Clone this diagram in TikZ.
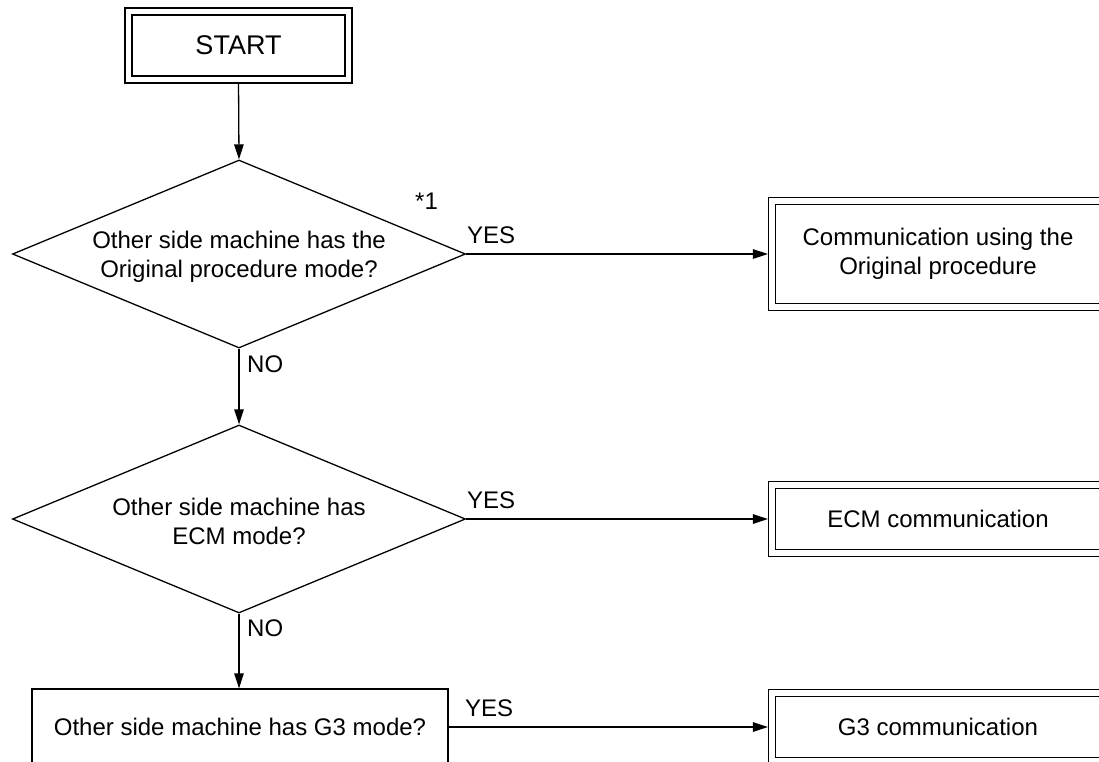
\documentclass[tikz,border=0pt]{standalone}
\usepackage{fontspec}
\setmainfont{Liberation Sans}
\usetikzlibrary{shapes.geometric,arrows.meta}
\begin{document}
\begin{tikzpicture}[x=1pt,y=-1pt,
  every node/.style={font=\fontsize{24}{29}\selectfont},
  dbox/.style={draw, line width=1.2pt, double, double distance=5.7pt, inner sep=0, align=center},
  dia/.style={draw, diamond, line width=1.3pt, inner sep=0, minimum width=453pt, minimum height=188pt},
  pbox/.style={draw, rectangle, line width=1.3pt, inner sep=0},
  arr/.style={line width=1.3pt, -{Triangle[length=15pt,width=9.5pt]}},
  lbl/.style={anchor=base west, inner sep=0}
]
\useasboundingbox (0,0) rectangle (1099,761);
\node[dbox, minimum width=220pt, minimum height=68pt, font=\fontsize{27}{32}\selectfont] (start) at (238.5,45.5) {START};
\node[dia] (d1) at (239,254) {};
\node[align=center, inner sep=0] (t1) at (239,257) {Other side machine has the\\Original procedure mode?};
\node[dbox, minimum width=332pt, minimum height=106pt] (b1) at (938,254) {Communication using the\\Original procedure};
\node[dia] (d2) at (239,519) {};
\node[align=center, inner sep=0] (t2) at (239,521) {Other side machine has\\ECM mode?};
\node[dbox, minimum width=332pt, minimum height=67.5pt] (b2) at (938,519) {ECM communication};
\node[pbox, minimum width=416pt, minimum height=76pt] (g3) at (240,727) {Other side machine has G3 mode?};
\node[dbox, minimum width=332pt, minimum height=67.5pt] (b3) at (938,727) {G3 communication};

\draw[arr, shorten <=3.5pt] (start.south) -- (d1.north);
\draw[arr] (d1.south) -- (d2.north);
\draw[arr] (d2.south) -- (d2.south |- g3.north);
\draw[arr, shorten >=3.5pt] (d1.east) -- (b1.west);
\draw[arr, shorten >=3.5pt] (d2.east) -- (b2.west);
\draw[arr, shorten >=3.5pt] (g3.east) -- (b3.west);

\node[lbl] (star) at (415,209) {*1};
\node[lbl] (yes1) at (467,243) {YES};
\node[lbl] (no1) at (247,372) {NO};
\node[lbl] (yes2) at (467,508) {YES};
\node[lbl] (no2) at (247,636) {NO};
\node[lbl] (yes3) at (465,716) {YES};
\end{tikzpicture}
\end{document}
